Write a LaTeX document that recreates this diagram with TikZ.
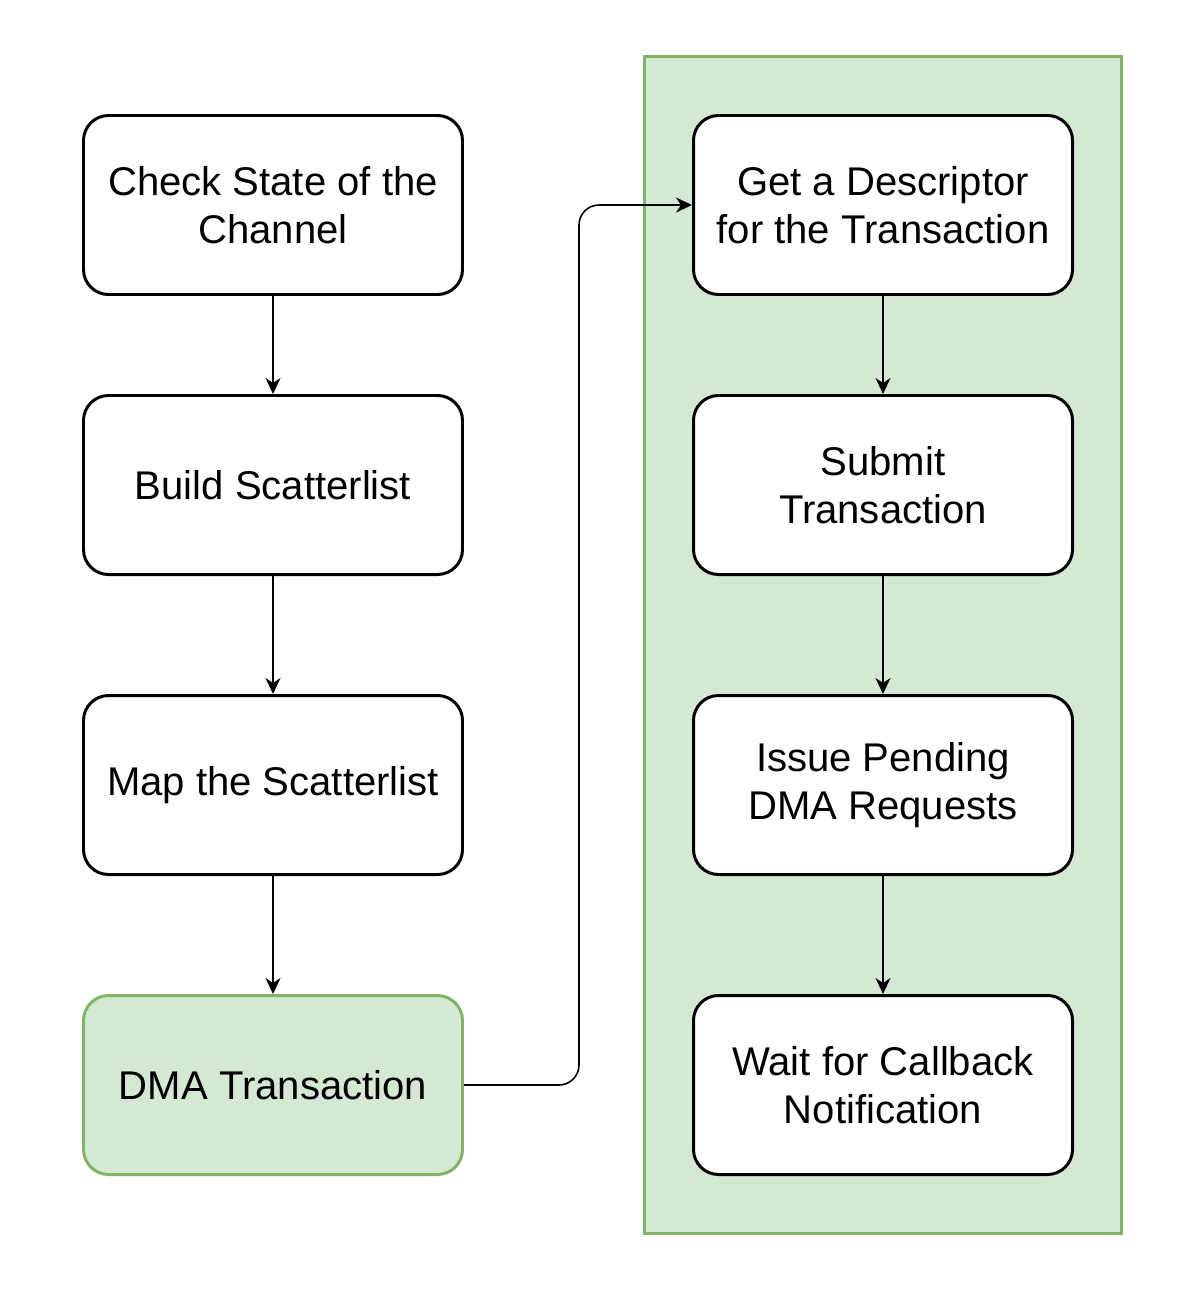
\documentclass[tikz,border=0pt]{standalone}
\usepackage{fontspec}
\setmainfont{Liberation Sans}
\usetikzlibrary{positioning}
\usetikzlibrary{arrows.meta}
\definecolor{stepgreen}{HTML}{D5E8D4}
\definecolor{stepedge}{HTML}{82B366}
\tikzset{
	stepbox/.style={draw, line width=0.85pt, rounded corners=0.25cm, fill=white,
		minimum width=3.79cm, minimum height=1.79cm, align=center,
		font=\fontsize{11.4}{13.7}\selectfont},
	dmabox/.style={stepbox, draw=stepedge, fill=stepgreen},
	flow/.style={-{Stealth[length=0.16cm, width=0.15cm, inset=0.05cm]}, line width=0.45pt}
}

\begin{document}
\begin{tikzpicture}
	\useasboundingbox (0,0) rectangle (12.04,-12.96);

	%green frame behind the right column
	\draw[stepedge, fill=stepgreen, line width=0.85pt] (6.445,-0.565) rectangle (11.215,-12.335);

	%left column
	\node[stepbox] (check) at (2.73,-2.05) {Check State of the\\Channel};
	\node[stepbox] (build) at (2.73,-4.85) {Build Scatterlist};
	\node[stepbox] (map) at (2.73,-7.85) {Map the Scatterlist};
	\node[dmabox] (dma) at (2.73,-10.85) {DMA Transaction};

	%right column
	\node[stepbox] (desc) at (8.83,-2.05) {Get a Descriptor\\for the Transaction};
	\node[stepbox] (submit) at (8.83,-4.85) {Submit\\Transaction};
	\node[stepbox] (issue) at (8.83,-7.85) {Issue Pending\\DMA Requests};
	\node[stepbox] (wait) at (8.83,-10.85) {Wait for Callback\\Notification};

	%arrows
	\draw[flow] (check) -- (build);
	\draw[flow] (build) -- (map);
	\draw[flow] (map) -- (dma);
	\draw[flow] (desc) -- (submit);
	\draw[flow] (submit) -- (issue);
	\draw[flow] (issue) -- (wait);
	\coordinate (bend) at (5.79,-2.05);
	\draw[flow, rounded corners=0.2cm] (dma.east) -| (bend) -- (desc.west);

\end{tikzpicture}
\end{document}
